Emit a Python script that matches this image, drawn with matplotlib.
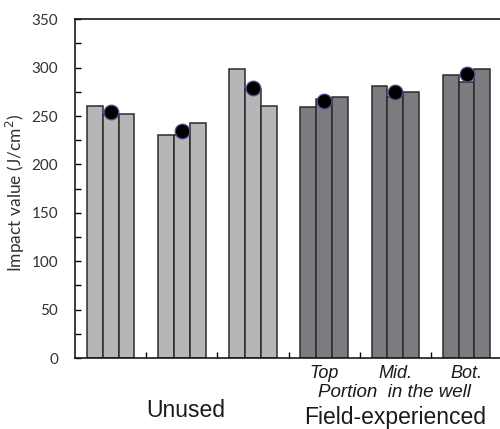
import numpy as np
import matplotlib
matplotlib.use('Agg')
import matplotlib.pyplot as plt
import matplotlib.transforms as mtransforms

# values (J/cm^2)
bar1 = [260, 230, 299, 259, 281, 292]
bar2 = [251, 230, 278, 268, 270, 285]
bar3 = [252, 243, 260, 270, 275, 299]
means = [254, 235, 279, 266, 275, 293]
group_colors = ['#b5b6b8', '#b5b6b8', '#b5b6b8', '#7b7c7f', '#7b7c7f', '#7b7c7f']
well_labels = ['Top', 'Mid.', 'Bot.']

fig = plt.figure(figsize=(5, 4.29), dpi=100)
ax = fig.add_axes([0.1494, 0.1655, 0.8506, 0.7895])

x = np.arange(len(bar1))
w = 0.222
for k, vals in enumerate([bar1, bar2, bar3]):
    ax.bar(x + (k - 1) * w, vals, width=w, color=group_colors,
           edgecolor='#2b2b2b', linewidth=1.1, zorder=2)

ax.plot(x, means, 'o', color='black', markersize=10.5,
        markeredgecolor='#5a4590', markeredgewidth=0.9, zorder=3)

ax.set_xlim(-0.505, 5.47)
ax.set_ylim(0, 350)

ax.set_yticks(np.arange(0, 351, 50))
ax.set_yticks(np.arange(0, 351, 25), minor=True)
ax.tick_params(axis='y', which='both', direction='in', length=4, width=1,
               labelsize=11, labelcolor='#333333', pad=12)
ax.set_xticks(np.arange(0, 5.01, 0.5))
ax.tick_params(axis='x', direction='in', length=4, width=1, labelbottom=False)
for t in ax.get_yticklabels():
    t.set_fontfamily('Lato')

ax.spines['right'].set_visible(False)
for s in ['left', 'top', 'bottom']:
    ax.spines[s].set_linewidth(1.2)
    ax.spines[s].set_color('#1a1a1a')

fig.text(0.031, 1 - 193 / 429, 'Impact value (J/cm$^2$)', rotation=90,
         ha='center', va='center', fontsize=12.5, color='#333333', family='Lato')

trans = mtransforms.blended_transform_factory(ax.transData, fig.transFigure)
for i, lab in zip([3, 4, 5], well_labels):
    ax.text(i, 0.1305, lab, transform=trans, ha='center', va='center',
            fontsize=13, style='italic', family='Liberation Sans', color='#1a1a1a')
ax.text(3.99, 0.084, 'Portion  in the well', transform=trans, ha='center',
        va='center', fontsize=13.5, style='italic', family='Liberation Sans',
        color='#1a1a1a')
ax.text(1.06, 0.044, 'Unused', transform=trans, ha='center', va='center',
        fontsize=16.5, family='Liberation Sans', color='#1a1a1a')
ax.text(3.99, 0.026, 'Field-experienced', transform=trans, ha='center',
        va='center', fontsize=16.5, family='Liberation Sans', color='#1a1a1a')

fig.savefig('out.png', dpi=100)
